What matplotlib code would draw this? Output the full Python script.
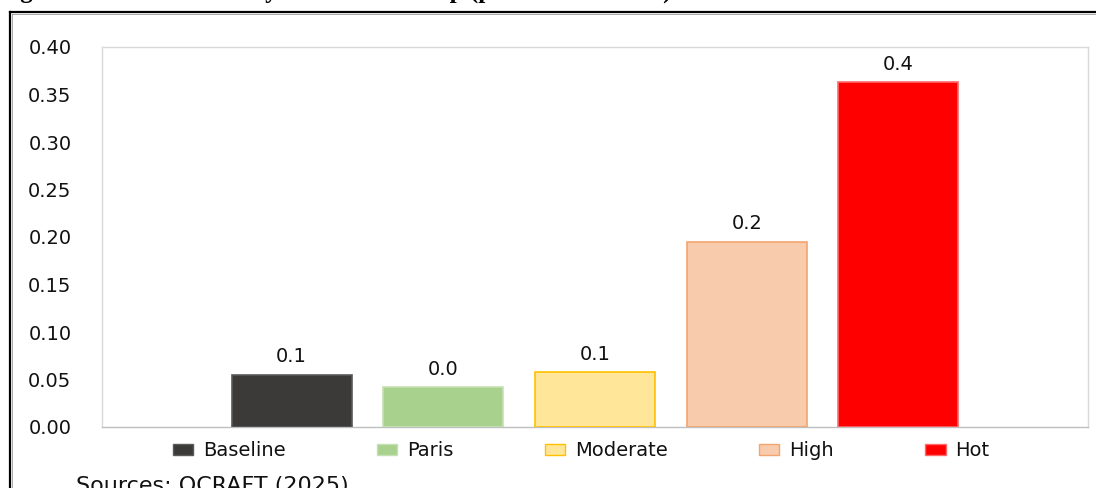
import matplotlib
matplotlib.use("Agg")
import matplotlib.pyplot as plt
from matplotlib.patches import Patch
from matplotlib.lines import Line2D

# ---- data ----
categories = ["Baseline", "Paris", "Moderate", "High", "Hot"]
values = [0.055, 0.042, 0.058, 0.195, 0.363]
value_labels = [f"{v:.1f}" for v in values]
yticks = [0.00, 0.05, 0.10, 0.15, 0.20, 0.25, 0.30, 0.35, 0.40]
title = "Figure 2: Annual losses by 2050 vs. no-temp (percent deviation)"
source = "Sources: OCRAFT (2025)"

fills = ["#3b3a38", "#a9d18e", "#ffe699", "#f8cbad", "#ff0000"]
edges = ["#595959", "#c5e0b4", "#ffc000", "#f4a46e", "#ff6b6b"]

W, H = 1096, 488
fig = plt.figure(figsize=(W / 100, H / 100), dpi=100)
fig.patch.set_facecolor("white")

def fx(px):
    return px / W

def fy(py):
    return 1 - py / H

# outer frame (top and left edges visible)
fig.add_artist(Line2D([fx(9.5), fx(9.5)], [fy(12), fy(500)], color="black", lw=1.6))
fig.add_artist(Line2D([fx(9.5), fx(1100)], [fy(12), fy(12)], color="black", lw=1.6))
fig.add_artist(Line2D([fx(11.5), fx(11.5)], [fy(14), fy(500)], color="#9a9a9a", lw=0.6))
fig.add_artist(Line2D([fx(11.5), fx(1100)], [fy(14), fy(14)], color="#9a9a9a", lw=0.6))

# title, clipped at the top edge as in the reference
fig.text(fx(-2), fy(-2.5), title, fontsize=18, fontweight="bold",
         family="Liberation Serif", ha="left", va="baseline", color="black")

ax = fig.add_axes([fx(102), fy(427), fx(1088) - fx(102), fy(47) - fy(427)])
x = list(range(len(categories)))
bars = ax.bar(x, values, width=0.79, color=fills, edgecolor=edges, linewidth=1.2, zorder=3)

for b, lab in zip(bars, value_labels):
    ax.annotate(lab, (b.get_x() + b.get_width() / 2, b.get_height()),
                xytext=(0, 6), textcoords="offset points", ha="center", va="bottom",
                fontsize=14, color="#111111")

ax.set_xlim(-1.25, len(categories) - 1 + 1.25)
ax.set_ylim(0, 0.40)
ax.set_yticks(yticks)
ax.set_yticklabels([f"{t:.2f}" for t in yticks], fontsize=14, color="#111111")
ax.set_xticks([])
ax.tick_params(axis="y", length=0, pad=22)
for s in ax.spines.values():
    s.set_color("#d9d9d9")
    s.set_linewidth(1.0)
ax.spines["bottom"].set_color("#bfbfbf")

handles = [Patch(facecolor=f, edgecolor=e, linewidth=1.0) for f, e in zip(fills, edges)]
fig.legend(handles, categories, loc="center", bbox_to_anchor=(fx(581), fy(451)),
           ncol=5, frameon=False, fontsize=14, handlelength=1.05, handleheight=0.5,
           handletextpad=0.5, columnspacing=4.7, labelcolor="#111111")

fig.text(fx(76), fy(492), source, fontsize=16, ha="left", va="baseline", color="#111111")

fig.savefig("out.png", dpi=100, facecolor="white")
